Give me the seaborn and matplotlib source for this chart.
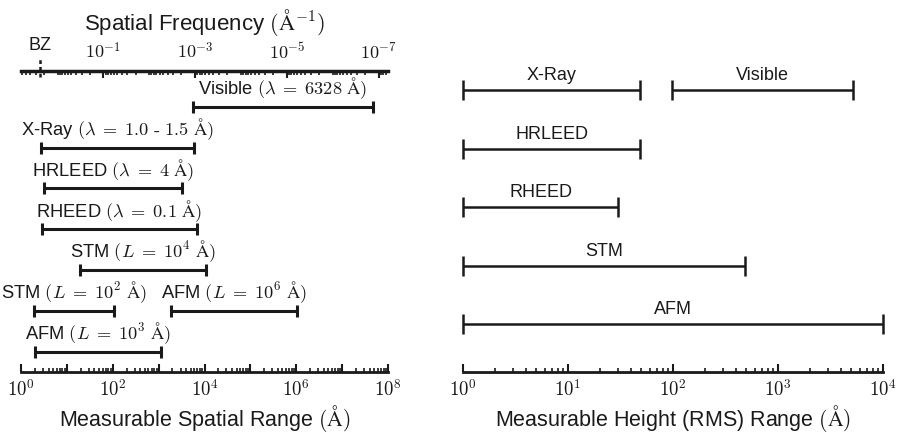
import numpy as np
import pandas as pd
import matplotlib
matplotlib.use("Agg")
import matplotlib.pyplot as plt
import matplotlib.transforms as mtransforms
from matplotlib.ticker import LogLocator, NullFormatter
import seaborn as sns

# ---- left panel: measurable spatial range (Angstrom) ----
spatial_labels = [r"Visible $(\lambda\;=\;6328\ \mathrm{\AA})$",
                  r"X-Ray $(\lambda\;=\;1.0\ \text{-}\ 1.5\ \mathrm{\AA})$",
                  r"HRLEED $(\lambda\;=\;4\ \mathrm{\AA})$",
                  r"RHEED $(\lambda\;=\;0.1\ \mathrm{\AA})$",
                  r"STM $(L\;=\;10^4\ \mathrm{\AA})$",
                  r"STM $(L\;=\;10^2\ \mathrm{\AA})$",
                  r"AFM $(L\;=\;10^6\ \mathrm{\AA})$",
                  r"AFM $(L\;=\;10^3\ \mathrm{\AA})$"]
spatial_rows = [0, 1, 2, 3, 4, 5, 5, 6]
spatial_lo = [5.7e3, 2.7, 3.2, 2.9, 19, 1.9, 1.9e3, 2.0]
spatial_hi = [4.6e7, 6.0e3, 3.3e3, 6.8e3, 1.1e4, 105, 1.05e6, 1.1e3]

spatial_ticks = [1e0, 1e2, 1e4, 1e6, 1e8]
freq_ticks = [1e-1, 1e-3, 1e-5, 1e-7]
bz_q = 2.4

# ---- right panel: measurable height (RMS) range (Angstrom) ----
height_labels = ["X-Ray", "Visible", "HRLEED", "RHEED", "STM", "AFM"]
height_rows = [0, 0, 1, 2, 3, 4]
height_lo = [1, 98, 1, 1, 1, 1]
height_hi = [49, 5200, 49, 30, 485, 1e4]
height_ticks = [1e0, 1e1, 1e2, 1e3, 1e4]

sns.set_theme(style="white")
plt.rcParams["font.family"] = ["Liberation Sans", "DejaVu Sans"]
plt.rcParams["mathtext.fontset"] = "cm"

fig = plt.figure(figsize=(9.13, 4.34), dpi=100)
axl = fig.add_axes([21 / 913, 1 - 372 / 434, 367 / 913, 301 / 434])
axr = fig.add_axes([463 / 913, 1 - 372 / 434, 420 / 913, 312 / 434])


def draw_ranges(ax, df, cap, lw, fs, off):
    for _, r in df.iterrows():
        ax.hlines(r["row"], r["lo"], r["hi"], color="k", lw=lw, clip_on=False)
        ax.plot([r["lo"], r["hi"]], [r["row"], r["row"]], ls="none", marker="|",
                ms=cap, mew=lw, color="k", clip_on=False)
        ax.annotate(r["label"], (np.sqrt(r["lo"] * r["hi"]), r["row"]),
                    xytext=(0, off), textcoords="offset points",
                    ha="center", va="bottom", fontsize=fs, color="k")


def log_axis(ax, labels, lim):
    ax.set_xscale("log")
    ax.set_xlim(*lim)
    ax.set_yticks([])
    ax.set_xticks(np.logspace(np.log10(lim[0]), np.log10(lim[1]),
                              int(round(np.log10(lim[1] / lim[0]))) + 1))
    ax.set_xticklabels([labels.get(int(round(np.log10(t))), "") for t in ax.get_xticks()])
    ax.xaxis.set_minor_locator(LogLocator(base=10, subs=np.arange(2, 10), numticks=100))
    ax.xaxis.set_minor_formatter(NullFormatter())
    ax.tick_params(axis="x", which="major", direction="in", length=6, width=1.5,
                   labelsize=13.5, pad=5, bottom=True, colors="k")
    ax.tick_params(axis="x", which="minor", direction="in", length=3, width=1.2,
                   bottom=True, colors="k")
    ax.spines["bottom"].set_linewidth(2)
    ax.spines["bottom"].set_color("k")
    sns.despine(ax=ax, left=True, top=True, right=True)


# left panel
df_sp = pd.DataFrame({"label": spatial_labels, "row": spatial_rows,
                      "lo": spatial_lo, "hi": spatial_hi})
log_axis(axl, {int(np.log10(t)): r"$10^{%d}$" % int(np.log10(t)) for t in spatial_ticks}, (1, 1e8))
axl.set_ylim(6.5, -0.88)
draw_ranges(axl, df_sp, cap=8, lw=2.2, fs=13.2, off=4)
axl.set_xlabel(r"Measurable Spatial Range $(\mathrm{\AA})$", fontsize=15.5, labelpad=2, color="k")

inv = lambda x: 2 * np.pi / np.asarray(x, dtype=float)
sec = axl.secondary_xaxis("top", functions=(inv, inv))
sec.set_xticks(freq_ticks, labels=[r"$10^{%d}$" % int(np.log10(t)) for t in freq_ticks])
sec.xaxis.set_minor_locator(LogLocator(base=10, subs=np.arange(1, 10), numticks=100))
sec.xaxis.set_minor_formatter(NullFormatter())
sec.tick_params(axis="x", which="major", direction="in", length=5, width=1.5,
                labelsize=13, pad=6, colors="k")
sec.tick_params(axis="x", which="minor", direction="in", length=3, width=1.2, colors="k")
sec.spines["top"].set_linewidth(2.5)
sec.spines["top"].set_color("k")
sec.set_xlabel(r"Spatial Frequency $(\mathrm{\AA}^{-1})$", fontsize=16, labelpad=9, color="k")

bz_L = 2 * np.pi / bz_q
trans = mtransforms.blended_transform_factory(axl.transData, axl.transAxes)
axl.plot([bz_L, bz_L], [0.98, 1.045], transform=trans, color="k", lw=1.8,
         ls=(0, (1.5, 1.2)), clip_on=False)
axl.text(bz_L, 1.055, "BZ", transform=trans, ha="center", va="bottom", fontsize=13, color="k")

# right panel
df_h = pd.DataFrame({"label": height_labels, "row": height_rows,
                     "lo": height_lo, "hi": height_hi})
log_axis(axr, {int(np.log10(t)): r"$10^{%d}$" % int(np.log10(t)) for t in height_ticks}, (1, 1e4))
axr.set_ylim(4.82, -0.513)
draw_ranges(axr, df_h, cap=15, lw=1.8, fs=13, off=4)
axr.set_xlabel(r"Measurable Height (RMS) Range $(\mathrm{\AA})$", fontsize=15.5, labelpad=2, color="k")

fig.savefig("out.png", dpi=100)
